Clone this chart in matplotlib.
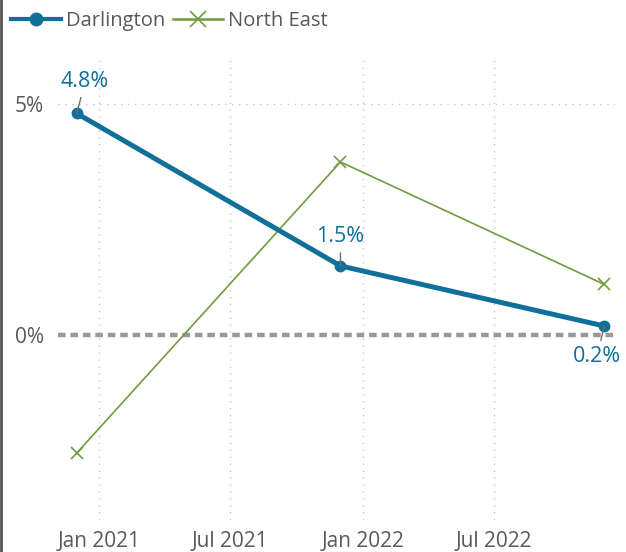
import pandas as pd
import matplotlib.pyplot as plt
import matplotlib.dates as mdates
from matplotlib.lines import Line2D

plt.rcParams['font.family'] = ['Open Sans', 'DejaVu Sans']

# === Data ===
dates = pd.to_datetime(["2020-12-01", "2021-12-01", "2022-12-01"])
darlington = [4.8, 1.5, 0.2]
north_east = [-2.55, 3.75, 1.1]
labels = ["4.8%", "1.5%", "0.2%"]

blue = "#10709a"
green = "#6f9c3c"
text_grey = "#595959"

fig = plt.figure(figsize=(6.26, 5.52), dpi=100)
ax = fig.add_axes([58 / 626, 32 / 552, (615 - 58) / 626, (520 - 58) / 552])

# grid: dotted verticals at ticks, dotted line at 5%, dashed zero line
ax.axhline(5, color="#c8c8c8", linestyle=(0, (1, 4)), linewidth=1, zorder=0)
ax.axhline(0, color="#999999", linestyle=(0, (1.7, 1.1)), linewidth=3.2, zorder=1)
ax.grid(axis="x", color="#c8c8c8", linestyle=(0, (1, 4)), linewidth=1)

ax.plot(dates, north_east, color=green, linewidth=1.2, marker="x",
        markersize=8, markeredgewidth=1.2, label="North East", zorder=3)
ax.plot(dates, darlington, color=blue, linewidth=3.6, marker="o",
        markersize=7.5, label="Darlington", zorder=4)

# value labels with short leader lines
offsets = [(6, 23), (0, 21), (-5, -22)]
for d, v, lab, (dx, dy) in zip(dates, darlington, labels, offsets):
    ax.annotate(lab, xy=(d, v), xytext=(dx, dy), textcoords="offset points",
                ha="center", va="center", color=blue, fontsize=15.5,
                arrowprops=dict(arrowstyle="-", color="#707070", lw=1,
                                shrinkA=2, shrinkB=0), zorder=5)

ax.set_ylim(-4, 6)
ax.set_yticks([0, 5])
ax.set_yticklabels(["0%", "5%"])
ax.set_xlim(pd.Timestamp("2020-11-05"), pd.Timestamp("2022-12-16"))
ax.xaxis.set_major_locator(mdates.MonthLocator(bymonth=[1, 7]))
ax.xaxis.set_major_formatter(mdates.DateFormatter("%b %Y"))
ax.tick_params(length=0, labelsize=15, labelcolor=text_grey)
ax.tick_params(axis="x", pad=8)
ax.tick_params(axis="y", pad=10)
for s in ax.spines.values():
    s.set_visible(False)

handles = [Line2D([], [], color=blue, linewidth=3, marker="o", markersize=9),
           Line2D([], [], color=green, linewidth=1.8, marker="x", markersize=11,
                  markeredgewidth=1.2)]
fig.legend(handles, ["Darlington", "North East"], loc="upper left",
           bbox_to_anchor=(0.0, 1.0), ncol=2, frameon=False, fontsize=14.5,
           labelcolor=text_grey, handlelength=2.5, handletextpad=0.25,
           columnspacing=0.35, borderaxespad=0.15)

# frame line down the left edge
fig.add_artist(Line2D([0.002, 0.002], [0, 1], color="#555555", linewidth=2,
                      transform=fig.transFigure))

fig.savefig("out.png", dpi=100)
